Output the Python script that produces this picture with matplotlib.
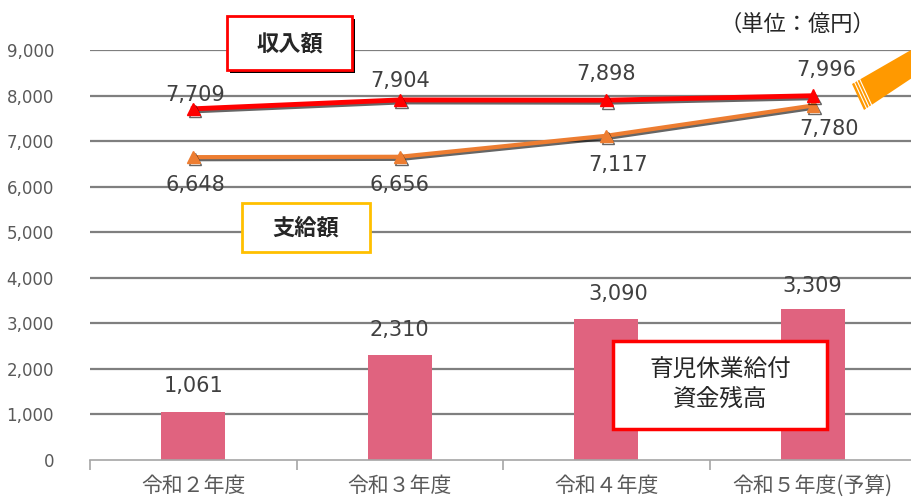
import numpy as np
import matplotlib.pyplot as plt
import matplotlib.patheffects as pe
from matplotlib.patches import Rectangle, Polygon

plt.rcParams['font.family'] = ['Noto Sans CJK JP', 'DejaVu Sans']
NUM_FONT = ['DejaVu Sans']

# data
years = ["令和２年度", "令和３年度", "令和４年度", "令和５年度(予算)"]
income = [7709, 7904, 7898, 7996]      # 収入額
payment = [6648, 6656, 7117, 7780]     # 支給額
balance = [1061, 2310, 3090, 3309]     # 育児休業給付資金残高
yticks = [0, 1000, 2000, 3000, 4000, 5000, 6000, 7000, 8000, 9000]

W, H = 911, 499
fig = plt.figure(figsize=(W / 100, H / 100), dpi=100)
ax = fig.add_axes([90 / W, (H - 460) / H, 826 / W, 410 / H])


def px(x, y):
    # pixel coords (top-left origin) -> figure fraction
    return x / W, (H - y) / H


x = np.arange(len(years))
ax.set_xlim(-0.5, len(years) - 0.5)
ax.set_ylim(0, 9000)

# grid
for v in yticks[1:]:
    ax.axhline(v, color="#7f7f7f", lw=1.6, zorder=0)

bars = ax.bar(x, balance, width=0.31, color="#e0637f", zorder=2)

shadow = [pe.SimpleLineShadow(offset=(1.2, -1.5), shadow_color="black", alpha=0.6), pe.Normal()]
ax.plot(x, income, color="#ff0000", lw=3.5, marker="^", ms=9, mec="#ff0000", zorder=4, path_effects=shadow)
ax.plot(x, payment, color="#ed7d31", lw=3, marker="^", ms=9, mec="#ed7d31", zorder=3, path_effects=shadow)

txt_col = "#404040"
inc_off = [(2, 14), (0, 19), (0, 26), (14, 26)]
pay_off = [(2, -28), (0, -28), (12, -29), (16, -23)]
bal_off = [(0, 16), (0, 15), (12, 15), (0, 13)]
for i in range(len(years)):
    ax.annotate(f"{income[i]:,}", (x[i], income[i]), xytext=inc_off[i], textcoords="offset pixels",
                ha="center", va="center", fontsize=15, color=txt_col, zorder=5, family=NUM_FONT)
    ax.annotate(f"{payment[i]:,}", (x[i], payment[i]), xytext=pay_off[i], textcoords="offset pixels",
                ha="center", va="center", fontsize=15, color=txt_col, zorder=5, family=NUM_FONT)
    ax.annotate(f"{balance[i]:,}", (x[i], balance[i]), xytext=bal_off[i], textcoords="offset pixels",
                ha="center", va="bottom", fontsize=15, color=txt_col, zorder=5, family=NUM_FONT)

# axes styling
for s in ["top", "right", "left"]:
    ax.spines[s].set_visible(False)
ax.spines["bottom"].set_color("#a6a6a6")
ax.spines["bottom"].set_linewidth(1.2)
ax.set_yticks(yticks)
ax.set_yticklabels([f"{v:,}" for v in yticks], fontsize=12, color="#595959", family=NUM_FONT)
ax.tick_params(axis="y", length=0, pad=26)
ax.set_xticks(np.arange(len(years)) - 0.5)
ax.set_xticklabels([])
ax.tick_params(axis="x", which="major", length=7, color="#a6a6a6", width=1.2)
ax.set_xticks(x, minor=True)
ax.set_xticklabels(years, minor=True, fontsize=15, color="#595959")
ax.tick_params(axis="x", which="minor", length=0, pad=11)

# text boxes
def box(x0, y0, x1, y1, ec, lw, shadow_col=None):
    fx0, fy1 = px(x0, y0)
    fx1, fy0 = px(x1, y1)
    if shadow_col:
        fig.patches.append(Rectangle((fx0 + 3 / W, fy0 - 3 / H), fx1 - fx0, fy1 - fy0,
                                     transform=fig.transFigure, facecolor=shadow_col,
                                     edgecolor="none", zorder=9))
    fig.patches.append(Rectangle((fx0, fy0), fx1 - fx0, fy1 - fy0, transform=fig.transFigure,
                                 facecolor="white", edgecolor=ec, lw=lw, zorder=10))

box(227, 16, 352, 70, "#ff0000", 2, shadow_col="black")
fig.text(*px(290, 45), "収入額", ha="center", va="center", fontsize=16, fontweight="bold",
         color="#262626", zorder=11)

box(242, 203, 370, 252, "#ffc000", 2)
fig.text(*px(306, 228), "支給額", ha="center", va="center", fontsize=16, fontweight="bold",
         color="#262626", zorder=11)

box(613, 341, 827, 429, "#ff0000", 2.5)
fig.text(*px(720, 385), "育児休業給付\n資金残高", ha="center", va="center", fontsize=17,
         color="#262626", linespacing=1.35, zorder=11)

fig.text(*px(797, 24), "（単位：億円）", ha="center", va="center", fontsize=16, color="#262626")

# orange connector shape at top right
band = [px(852, 84), px(911, 50), px(915, 76), px(864, 110)]
fig.patches.append(Polygon(band, closed=True, transform=fig.transFigure, facecolor="#ff9900",
                           edgecolor="none", zorder=8))
for k in range(3):
    d = 3 + 3 * k
    fig.lines.append(plt.Line2D([(852 + d * 0.87) / W, (864 + d * 0.87) / W],
                                [(H - 84 + d * 0.5) / H, (H - 110 + d * 0.5) / H],
                                transform=fig.transFigure, color="white", lw=0.8, zorder=9))

fig.savefig("out.png", dpi=100)
